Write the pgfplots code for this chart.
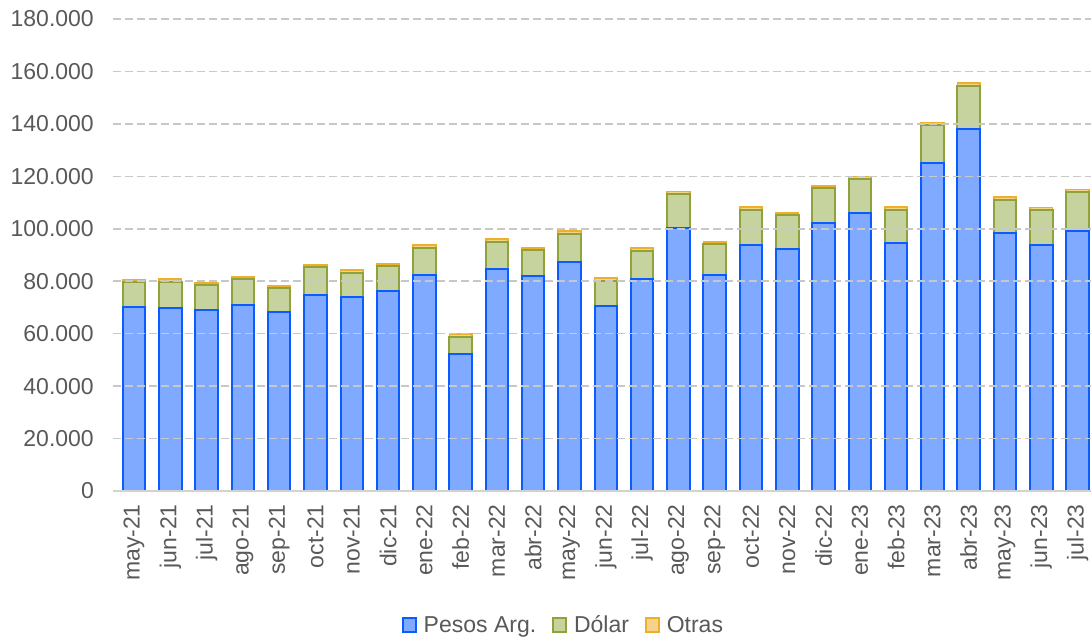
\documentclass[border=0pt]{standalone}
\usepackage{pgfplots}
\pgfplotsset{compat=1.18}
\usepackage{fontspec}
\setmainfont{Liberation Sans}
\definecolor{txt}{HTML}{595959}
\definecolor{pfill}{HTML}{7FAAFF}
\definecolor{pdraw}{HTML}{0A5CFF}
\definecolor{dfill}{HTML}{C6D39E}
\definecolor{ddraw}{HTML}{8FA33A}
\definecolor{ofill}{HTML}{F5D48A}
\definecolor{odraw}{HTML}{EEAF2E}
\definecolor{gridc}{HTML}{C8C8C8}
\pgfplotstableread{
x pesos dolar otras
0 70300 9300 1000
1 69900 9900 1000
2 68900 9500 1000
3 70900 9800 1000
4 68400 8900 1000
5 74900 10400 1000
6 73900 9400 1000
7 76400 9300 1000
8 82200 10500 1000
9 52400 6500 1000
10 84800 10300 1000
11 81900 9900 1000
12 87200 10900 1000
13 70600 9500 1000
14 80900 10800 1000
15 100400 12800 1000
16 82400 11700 1000
17 94000 13300 1000
18 92400 12800 900
19 102200 13300 900
20 106200 12700 1000
21 94500 12700 1000
22 125100 14400 1000
23 138100 16500 1000
24 98400 12700 1000
25 93900 13200 1000
26 99300 14700 1000
}\datatable
\begin{document}
\begin{tikzpicture}
\begin{axis}[
  scale only axis, width=978pt, height=472pt,
  ybar stacked, bar width=22.5pt,
  xmin=-0.58, xmax=26.37, ymin=0, ymax=180000,
  xtick=data,
  xticklabels={may-21,jun-21,jul-21,ago-21,sep-21,oct-21,nov-21,dic-21,ene-22,feb-22,mar-22,abr-22,may-22,jun-22,jul-22,ago-22,sep-22,oct-22,nov-22,dic-22,ene-23,feb-23,mar-23,abr-23,may-23,jun-23,jul-23},
  ytick={0,20000,40000,60000,80000,100000,120000,140000,160000,180000},
  yticklabels={0,20.000,40.000,60.000,80.000,100.000,120.000,140.000,160.000,180.000},
  scaled y ticks=false,
  ymajorgrids, grid style={draw=gridc, line width=1.6pt, dash pattern=on 8pt off 4pt},
  axis on top,
  axis x line*=bottom, axis y line*=left,
  y axis line style={draw=none},
  x axis line style={draw=gray!35, line width=1.8pt, -},
  tick style={draw=none},
  ticklabel style={font=\fontsize{23}{26}\selectfont, text=txt},
  yticklabel style={inner sep=0pt, anchor=east, xshift=-19pt},
  xticklabel style={inner sep=0pt, yshift=-13pt, rotate=90, anchor=east},
  legend style={at={(0.4606,-0.284)}, anchor=center, legend columns=3, draw=none,
    font=\fontsize{23}{26}\selectfont, text=txt,
    /tikz/every odd column/.append style={column sep=5pt},
    /tikz/every even column/.append style={column sep=14pt},
    inner sep=0pt},
  legend cell align=left,
]
\addplot+[fill=pfill, draw=pdraw, line width=2pt,
  legend image code/.code={\draw[fill=pfill, draw=pdraw, line width=1.8pt] (0pt,-7pt) rectangle (13pt,7pt);}]
  table[x=x, y=pesos] {\datatable};
\addplot+[fill=dfill, draw=ddraw, line width=2pt,
  legend image code/.code={\draw[fill=dfill, draw=ddraw, line width=1.8pt] (0pt,-7pt) rectangle (13pt,7pt);}]
  table[x=x, y=dolar] {\datatable};
\addplot+[fill=ofill, draw=odraw, line width=1.8pt,
  legend image code/.code={\draw[fill=ofill, draw=odraw, line width=1.8pt] (0pt,-7pt) rectangle (13pt,7pt);}]
  table[x=x, y=otras] {\datatable};
\legend{Pesos Arg., Dólar, Otras}
\end{axis}
\pgfresetboundingbox
\path (current axis.south west) ++(-113pt,-149pt) rectangle ++(1091pt,640pt);
\end{tikzpicture}
\end{document}
